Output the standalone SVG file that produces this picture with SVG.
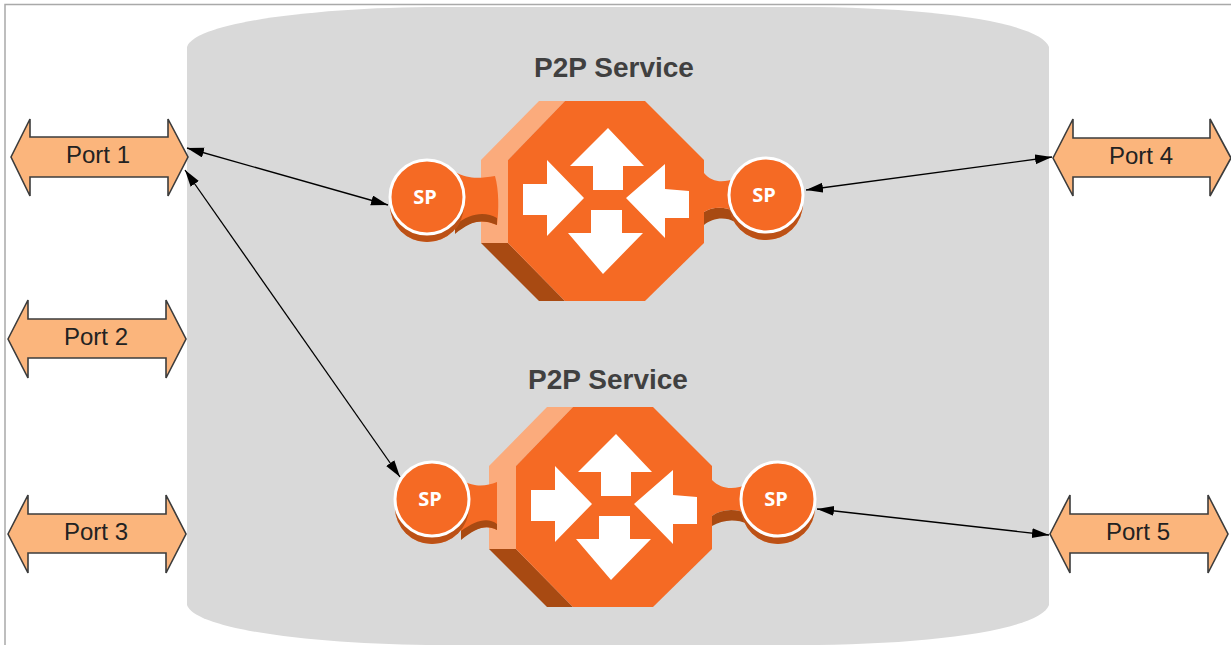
<svg xmlns="http://www.w3.org/2000/svg" width="1231" height="645" viewBox="0 0 1231 645">
<defs>
<marker id="ah" markerWidth="18" markerHeight="12" refX="17" refY="5" orient="auto-start-reverse" markerUnits="userSpaceOnUse"><path d="M0,0 L17,5 L0,10 Z" fill="#000"/></marker>
<g id="router">
<path class="lt" d="M58,0 H84 L27,59 V142 H0 V59 Z"/>
<path class="dk" d="M0,142 H27 L84,200 H58 Z"/>
<path class="or" d="M84,0 H164 L223,59 V142 L164,200 H84 L27,142 V59 Z"/>
<path class="wh" d="M42,83 H66 V59 L103,97 L66,135 V114 H42 Z"/>
<path class="wh" d="M127,27 L163,65 H142 V89 H112 V65 H89 Z"/>
<path class="wh" d="M145,97 L184,63 V88 L208,90 V117 H184 V137 Z"/>
<path class="wh" d="M122,173 L87,132 H110 V109 H141 V132 H162 Z"/>
</g>
<g id="sp">
<circle class="or" cx="0" cy="8" r="37"/>
<circle cx="0" cy="8" r="37" fill="#a84a12" opacity=".75"/>
<circle class="or" cx="0" cy="0" r="37" stroke="#fff" stroke-width="3"/>
<text class="sp" x="-2" y="6.5">SP</text>
</g>
</defs>
<style>
.or{fill:#f56a24}.lt{fill:#fbab7c}.dk{fill:#a84a12}.wh{fill:#fff}
.sp{font:700 20px "Open Sans","Noto Sans",sans-serif;fill:#fff;text-anchor:middle}
.title{font:700 28px "Liberation Sans",Arial,sans-serif;fill:#404040;text-anchor:middle}
.port{fill:#fbb57c;stroke:#3c3c3c;stroke-width:1.6}
.pt{font:24px "Liberation Sans",Arial,sans-serif;fill:#222;text-anchor:middle}
.conn{fill:none;stroke:#000;stroke-width:1.3;marker-start:url(#ah);marker-end:url(#ah)}
</style>
<rect width="1231" height="645" fill="#fff"/>
<path d="M5,645 V4.500 H1231" fill="none" stroke="#a9a9a9" stroke-width="1.500"/>
<path id="cloud" d="M187,47 C195,22 320,7 440,7 H800 C930,7 1040,22 1049,47 V605 C1040,630 930,645 800,645 H440 C320,645 195,630 187,605 Z" fill="#d9d9d9"/>
<g id="service1">
<text class="title" x="614" y="77">P2P Service</text>
<use href="#router" x="481" y="101"/>
<path class="or" d="M455,172 C470,180 480,178 495,176 C499,190 499,210 497,225 C480,218 470,222 455,232 Z"/>
<path class="dk" d="M455,225 C470,213 485,211 497,218 L497,225 C480,218 470,222 455,234 Z"/>
<path class="dk" d="M704,212 C712,207 725,206 735,212 L735,222 C725,216 712,218 704,225 Z" fill="#5a2a08"/>
<path class="or" d="M704,173 C712,183 725,183 735,178 L735,212 C725,206 712,207 704,212 Z"/>
<use href="#sp" x="427" y="197"/>
<use href="#sp" x="766" y="195"/>
</g>
<g id="service2">
<text class="title" x="608" y="389">P2P Service</text>
<use href="#router" x="489" y="407"/>
<path class="or" d="M461,480 C476,488 486,486 497,482 L497,530 C486,524 476,528 461,538 Z"/>
<path class="dk" d="M461,531 C476,520 488,517 497,524 L497,530 C486,524 476,528 461,540 Z"/>
<path class="or" d="M712,480 C722,490 735,490 748,484 L748,514 C735,508 722,509 712,516 Z"/>
<path class="dk" d="M712,516 C722,509 735,508 748,514 L748,524 C735,518 722,520 712,526 Z"/>
<use href="#sp" x="432" y="499"/>
<use href="#sp" x="778" y="499"/>
</g>
<g id="port1"><path class="port" d="M11,157 L30,119 V137 H168 V119 L188,157 L168,196 V177 H30 V196 Z"/><text class="pt" x="98" y="163">Port 1</text></g>
<g id="port2"><path class="port" d="M8,339 L28,300 V319 H166 V300 L186,339 L166,378 V358 H28 V378 Z"/><text class="pt" x="96" y="345">Port 2</text></g>
<g id="port3"><path class="port" d="M8,534 L28,495 V514 H166 V495 L186,534 L166,573 V553 H28 V573 Z"/><text class="pt" x="96" y="540">Port 3</text></g>
<g id="port4"><path class="port" d="M1053,158 L1073,119 V138 H1210 V119 L1231,158 L1210,196 V177 H1073 V196 Z"/><text class="pt" x="1141" y="164">Port 4</text></g>
<g id="port5"><path class="port" d="M1050,534 L1070,495 V514 H1208 V495 L1228,534 L1208,573 V553 H1070 V573 Z"/><text class="pt" x="1138" y="540">Port 5</text></g>
<g id="connectors">
<line class="conn" x1="187" y1="148" x2="388" y2="205"/>
<line class="conn" x1="185" y1="170" x2="400" y2="477"/>
<line class="conn" x1="806" y1="190" x2="1052" y2="157"/>
<line class="conn" x1="817" y1="509" x2="1049" y2="535"/>
</g>
</svg>
